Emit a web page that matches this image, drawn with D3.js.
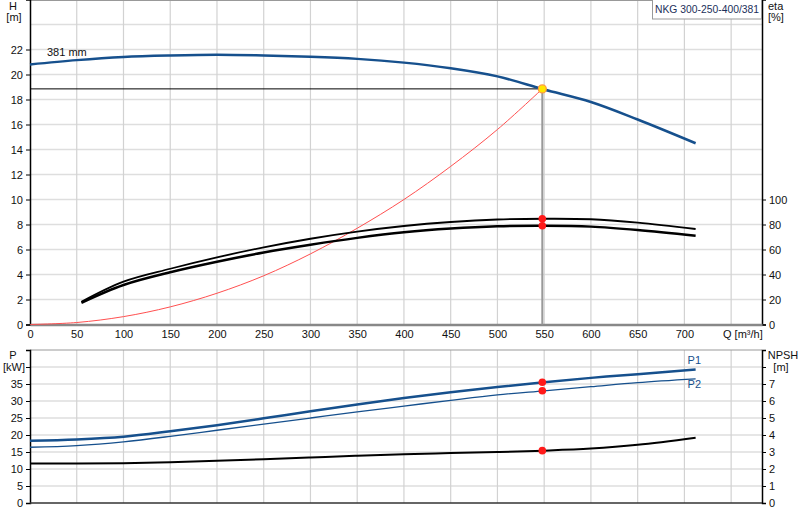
<!DOCTYPE html>
<html>
<head>
<meta charset="utf-8">
<script src="https://cdn.jsdelivr.net/npm/d3@7"></script>
<style>
  body { margin: 0; background: #fff; }
  svg text { font-family: "Liberation Sans", Arial, sans-serif; font-size: 11px; fill: #111; }
</style>
</head>
<body>
<svg id="chart" width="800" height="520"></svg>
<script>
// values
var qH   = [0, 50, 100, 150, 200, 250, 300, 350, 400, 450, 500, 550, 600, 650, 712];
var head = [20.8, 21.15, 21.4, 21.52, 21.58, 21.52, 21.42, 21.25, 20.95, 20.5, 19.85, 18.8, 17.8, 16.4, 14.5];

var qSys = [0, 50, 100, 150, 200, 250, 300, 350, 400, 450, 500, 548];
var hSys = [0, 0.16, 0.63, 1.41, 2.5, 3.9, 5.65, 7.7, 10.0, 12.65, 15.6, 18.85];

var qEta = [55, 100, 150, 200, 250, 300, 350, 400, 450, 500, 550, 600, 650, 712];
var eta1 = [18.2, 34.3, 44.6, 53.7, 61.7, 68.6, 74.3, 78.8, 82, 84, 84.6, 84.2, 81.5, 76.4];
var eta2 = [17.4, 31.6, 41.8, 50.2, 57.6, 63.8, 69.3, 73.8, 76.8, 78.6, 79, 78.3, 75.6, 71];

var qP  = [0, 50, 100, 150, 200, 250, 300, 350, 400, 450, 500, 550, 600, 650, 712];
var p1  = [18.3, 18.7, 19.5, 21.1, 22.9, 24.9, 27, 29, 30.9, 32.6, 34.1, 35.5, 36.8, 37.9, 39.3];
var p2  = [16.4, 16.9, 18.0, 19.6, 21.4, 23.2, 25, 26.8, 28.5, 30.2, 31.8, 33.0, 34.2, 35.4, 36.5];
var npsh = [2.33, 2.33, 2.34, 2.4, 2.48, 2.58, 2.68, 2.78, 2.87, 2.94, 3.0, 3.08, 3.2, 3.42, 3.84];

var dutyQ = 548, dutyH = 18.85, dutyEta1 = 84.6, dutyEta2 = 79, dutyP1 = 35.5, dutyP2 = 33.0, dutyNpsh = 3.08;

var qTicks = d3.range(0, 750, 50);
var qGrid = d3.range(50, 800, 50);
var hTicks = d3.range(0, 24, 2);
var etaTicks = d3.range(0, 120, 20);

var blue = "#16508d";
var svg = d3.select("#chart");

var x = d3.scaleLinear().domain([0, 783]).range([30, 762]);
var yH = d3.scaleLinear().domain([0, 26]).range([324.5, -0.5]);
var yEta = d3.scaleLinear().domain([0, 260]).range([324.5, -0.5]);
var yP = d3.scaleLinear().domain([0, 45]).range([503, 350]);
var yN = d3.scaleLinear().domain([0, 9]).range([503, 350]);

// ---- grids
var grid = svg.append("g");
grid.selectAll(".hg").data(d3.range(2, 26, 2)).enter().append("line")
    .attr("x1", x(0)).attr("x2", x(783))
    .attr("y1", d => yH(d)).attr("y2", d => yH(d))
    .attr("stroke", "#dedede").attr("stroke-width", 1.5);
grid.selectAll(".pg").data(d3.range(5, 45, 5)).enter().append("line")
    .attr("x1", x(0)).attr("x2", x(783))
    .attr("y1", d => yP(d)).attr("y2", d => yP(d))
    .attr("stroke", "#dedede").attr("stroke-width", 1.5);
grid.selectAll(".vg").data(qGrid).enter().append("line")
    .attr("x1", d => x(d)).attr("x2", d => x(d))
    .attr("y1", yH(26)).attr("y2", yH(0))
    .attr("stroke", "#d2d2d2").attr("stroke-width", 1.2);
grid.selectAll(".vg2").data(qGrid).enter().append("line")
    .attr("x1", d => x(d)).attr("x2", d => x(d))
    .attr("y1", yP(45)).attr("y2", yP(0))
    .attr("stroke", "#d2d2d2").attr("stroke-width", 1.2);

// frames
svg.append("line").attr("x1", x(0)).attr("x2", x(783)).attr("y1", 0.5).attr("y2", 0.5)
    .attr("stroke", "#999");
svg.append("line").attr("x1", x(0)).attr("x2", x(783)).attr("y1", yP(45)).attr("y2", yP(45))
    .attr("stroke", "#999");

// ---- axes
svg.append("g")
    .attr("transform", `translate(${x(0)},0)`)
    .call(d3.axisLeft(yH).tickValues(hTicks).tickSize(4).tickFormat(d3.format("d")))
    .call(g => g.select(".domain").attr("stroke", "#000").attr("stroke-width", 1.5));
svg.append("g")
    .attr("transform", `translate(${x(783)},0)`)
    .call(d3.axisRight(yEta).tickValues(etaTicks).tickSize(4).tickFormat(d3.format("d")))
    .call(g => g.select(".domain").attr("stroke", "#000").attr("stroke-width", 1.5));
svg.append("g")
    .attr("transform", `translate(0,${yH(0)})`)
    .call(d3.axisBottom(x).tickValues(qTicks).tickSize(0).tickPadding(6).tickFormat(d3.format("d")))
    .call(g => g.select(".domain").attr("stroke", "#888").attr("stroke-width", 2.5));

svg.append("g")
    .attr("transform", `translate(${x(0)},0)`)
    .call(d3.axisLeft(yP).tickValues(d3.range(0, 45, 5)).tickSize(4)
      .tickFormat(d => d < 40 ? d : ""))
    .call(g => g.select(".domain").attr("stroke", "#000").attr("stroke-width", 1.5));
svg.append("g")
    .attr("transform", `translate(${x(783)},0)`)
    .call(d3.axisRight(yN).tickValues(d3.range(0, 9, 1)).tickSize(4)
      .tickFormat(d => d < 8 ? d : ""))
    .call(g => g.select(".domain").attr("stroke", "#000").attr("stroke-width", 1.5));
svg.append("line").attr("x1", x(0)).attr("x2", x(783)).attr("y1", yP(0)).attr("y2", yP(0))
    .attr("stroke", "#333").attr("stroke-width", 1.5);

svg.selectAll(".tick text").style("font-size", "11px").attr("fill", "#111");

// axis titles
svg.append("text").attr("x", 13).attr("y", 10).attr("text-anchor", "middle").text("H");
svg.append("text").attr("x", 14).attr("y", 21).attr("text-anchor", "middle").text("[m]");
svg.append("text").attr("x", 768).attr("y", 10).text("eta");
svg.append("text").attr("x", 768).attr("y", 21).text("[%]");
svg.append("text").attr("x", 13).attr("y", 359).attr("text-anchor", "middle").text("P");
svg.append("text").attr("x", 14).attr("y", 371).attr("text-anchor", "middle").text("[kW]");
svg.append("text").attr("x", 783).attr("y", 359).attr("text-anchor", "middle").text("NPSH");
svg.append("text").attr("x", 781).attr("y", 371).attr("text-anchor", "middle").text("[m]");
svg.append("text").attr("x", 723).attr("y", 338).text("Q [m³/h]");

// ---- curves
var line = (xs, ys, yScale) => d3.line().curve(d3.curveCatmullRom.alpha(0.5))
    .x((d, i) => x(xs[i])).y(d => yScale(d))(ys);

// duty lines
svg.append("line").attr("x1", x(0)).attr("x2", x(dutyQ))
    .attr("y1", yH(dutyH)).attr("y2", yH(dutyH)).attr("stroke", "#000").attr("stroke-width", 1);
svg.append("line").attr("x1", x(dutyQ)).attr("x2", x(dutyQ))
    .attr("y1", yH(dutyH)).attr("y2", yH(0)).attr("stroke", "#999").attr("stroke-width", 2);

svg.append("path").attr("d", line(qSys, hSys, yH))
    .attr("fill", "none").attr("stroke", "#ff5050").attr("stroke-width", 1);

svg.append("path").attr("d", line(qEta, eta1, yEta))
    .attr("fill", "none").attr("stroke", "#000").attr("stroke-width", 1.8);
svg.append("path").attr("d", line(qEta, eta2, yEta))
    .attr("fill", "none").attr("stroke", "#000").attr("stroke-width", 2.5);

svg.append("path").attr("d", line(qH, head, yH))
    .attr("fill", "none").attr("stroke", blue).attr("stroke-width", 2.5);

svg.append("path").attr("d", line(qP, p1, yP))
    .attr("fill", "none").attr("stroke", blue).attr("stroke-width", 2.5);
svg.append("path").attr("d", line(qP, p2, yP))
    .attr("fill", "none").attr("stroke", blue).attr("stroke-width", 1.3);
svg.append("path").attr("d", line(qP, npsh, yN))
    .attr("fill", "none").attr("stroke", "#000").attr("stroke-width", 2);

// duty points
var dots = [[yEta(dutyEta1)], [yEta(dutyEta2)], [yP(dutyP1)], [yP(dutyP2)], [yN(dutyNpsh)]];
svg.selectAll(".dot").data(dots).enter().append("circle")
    .attr("cx", x(dutyQ)).attr("cy", d => d[0]).attr("r", 3.8).attr("fill", "#ff1a1a");
svg.append("circle").attr("cx", x(dutyQ)).attr("cy", yH(dutyH)).attr("r", 4)
    .attr("fill", "#ffe600").attr("stroke", "#ff9a40").attr("stroke-width", 1.2);

// labels
svg.append("text").attr("x", 47).attr("y", 56).text("381 mm");
svg.append("text").attr("x", x(712) - 8).attr("y", 364).style("fill", blue).text("P1");
svg.append("text").attr("x", x(712) - 8).attr("y", 388).style("fill", blue).text("P2");

// model box
var box = svg.append("g");
box.append("rect").attr("x", 652.5).attr("y", -1).attr("width", 109).attr("height", 20)
    .attr("fill", "#fff").attr("stroke", "#999");
box.append("text").attr("x", 655).attr("y", 12.5).attr("textLength", 104)
    .attr("lengthAdjust", "spacingAndGlyphs")
    .style("fill", "#1b2f5a").text("NKG 300-250-400/381");
</script>
</body>
</html>
